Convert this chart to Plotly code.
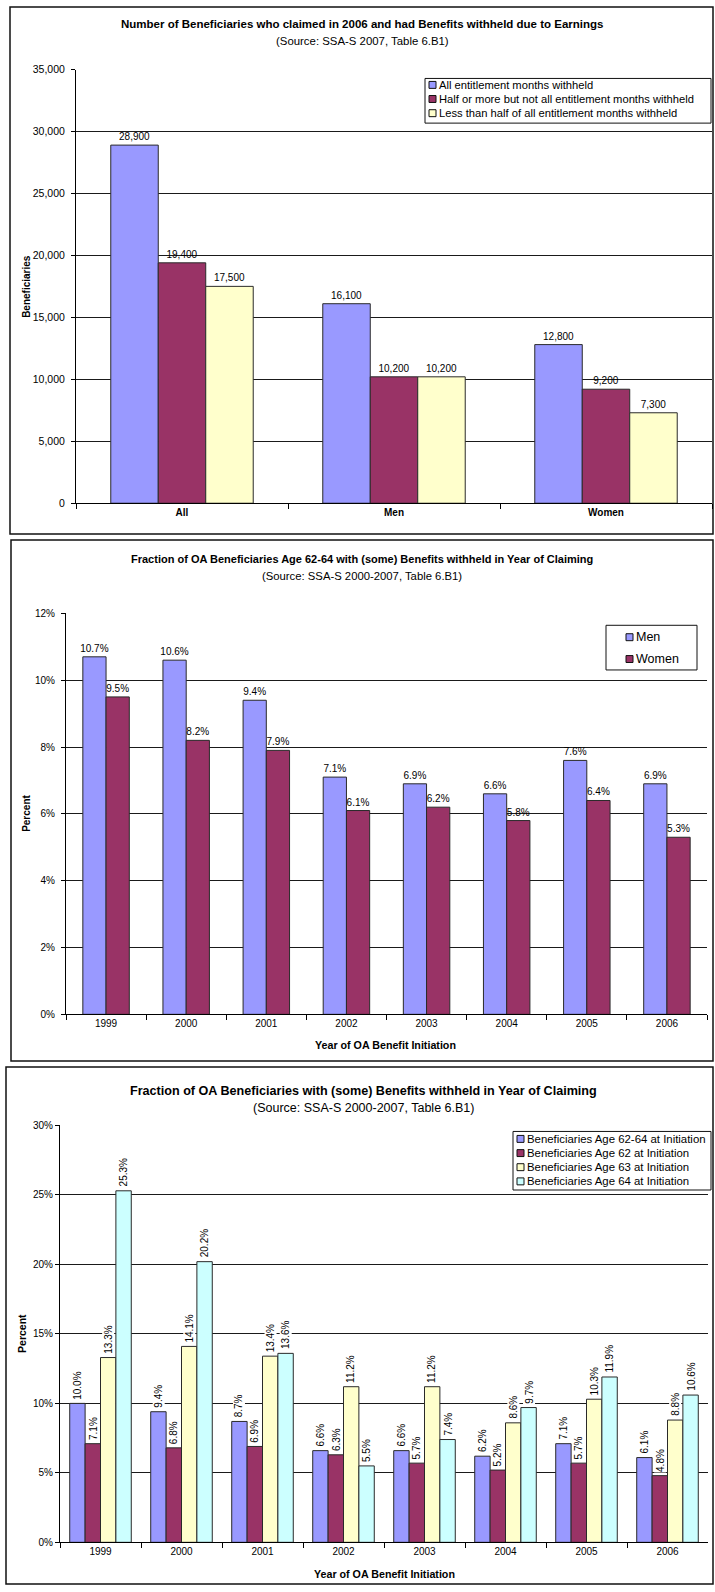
import plotly.graph_objects as go

# ---------------- data ----------------
groups = ["All", "Men", "Women"]
earn_series = [
    "All entitlement months withheld",
    "Half or more but not all entitlement months withheld",
    "Less than half of all entitlement months withheld",
]
earn_all_months = [28900, 16100, 12800]
earn_half_more = [19400, 10200, 9200]
earn_less_half = [17500, 10200, 7300]

years = ["1999", "2000", "2001", "2002", "2003", "2004", "2005", "2006"]
sex_series = ["Men", "Women"]
pct_men = [10.7, 10.6, 9.4, 7.1, 6.9, 6.6, 7.6, 6.9]
pct_women = [9.5, 8.2, 7.9, 6.1, 6.2, 5.8, 6.4, 5.3]

age_series = [
    "Beneficiaries Age 62-64 at Initiation",
    "Beneficiaries Age 62 at Initiation",
    "Beneficiaries Age 63 at Initiation",
    "Beneficiaries Age 64 at Initiation",
]
pct_age_62_64 = [10.0, 9.4, 8.7, 6.6, 6.6, 6.2, 7.1, 6.1]
pct_age_62 = [7.1, 6.8, 6.9, 6.3, 5.7, 5.2, 5.7, 4.8]
pct_age_63 = [13.3, 14.1, 13.4, 11.2, 11.2, 8.6, 10.3, 8.8]
pct_age_64 = [25.3, 20.2, 13.6, 5.5, 7.4, 9.7, 11.9, 10.6]

# ---------------- styling ----------------
W, H = 715, 1592
FONT = "Liberation Sans, Arial, sans-serif"
BLUE, MAROON, YELLOW, CYAN = "#9999FF", "#993366", "#FFFFCC", "#CCFFFF"
EDGE = "#2a2a2a"
GRID = "#1a1a1a"


def px(x):
    return x / W


def py(y):
    return 1 - y / H


fig = go.Figure()

# ---------- panel 1: counts ----------
p1_w = 0.224
p1_off = [-1.5 * p1_w, -0.5 * p1_w, 0.5 * p1_w]
for name, vals, col, off in zip(
    earn_series, [earn_all_months, earn_half_more, earn_less_half],
    [BLUE, MAROON, YELLOW], p1_off,
):
    fig.add_trace(go.Bar(
        x=groups, y=vals, name=name, width=p1_w, offset=off,
        marker=dict(color=col, line=dict(color=EDGE, width=1)),
        texttemplate="%{y:,}", textposition="outside", cliponaxis=False,
        constraintext="none",
        textfont=dict(family=FONT, size=10, color="black"),
        xaxis="x", yaxis="y", showlegend=False,
    ))

# ---------- panel 2: men / women ----------
p2_w = 0.29
for name, vals, col, off in zip(sex_series, [pct_men, pct_women],
                                [BLUE, MAROON], [-p2_w, 0.0]):
    fig.add_trace(go.Bar(
        x=years, y=vals, name=name, width=p2_w, offset=off,
        marker=dict(color=col, line=dict(color=EDGE, width=1)),
        texttemplate="%{y:.1f}%", textposition="outside", cliponaxis=False,
        constraintext="none",
        textfont=dict(family=FONT, size=10, color="black"),
        xaxis="x2", yaxis="y2", showlegend=False,
    ))

# ---------- panel 3: by age ----------
p3_w = 0.19
p3_band_px = 81.0
age_vals = [pct_age_62_64, pct_age_62, pct_age_63, pct_age_64]
age_cols = [BLUE, MAROON, YELLOW, CYAN]
for i, (name, vals, col) in enumerate(zip(age_series, age_vals, age_cols)):
    off = (i - 2) * p3_w
    fig.add_trace(go.Bar(
        x=years, y=vals, name=name, width=p3_w, offset=off,
        marker=dict(color=col, line=dict(color=EDGE, width=1)),
        xaxis="x3", yaxis="y3", showlegend=False,
    ))
    shift = (off + p3_w / 2) * p3_band_px
    # value labels: positioned on the category index of each year
    for j, v in enumerate(vals):
        fig.add_annotation(
            x=j, y=v, xref="x3", yref="y3", text=f"{v:.1f}%",
            textangle=-90, xanchor="center", yanchor="bottom",
            xshift=shift, yshift=3, showarrow=False, bgcolor="white",
            borderpad=0, font=dict(family=FONT, size=10, color="black"),
        )

# ---------- axes ----------
axis_common = dict(
    showline=True, linecolor="black", linewidth=1, mirror=False,
    tickfont=dict(family=FONT, size=10, color="black"),
    zeroline=False, fixedrange=True,
)
x_common = dict(axis_common, type="category", tickson="boundaries",
                ticks="outside", ticklen=5, tickcolor="black",
                showgrid=False)
y_common = dict(axis_common, ticks="outside", ticklen=4, tickcolor="black",
                showgrid=True, gridcolor=GRID, gridwidth=1)

fig.update_layout(
    xaxis=dict(x_common, domain=[px(76), px(712)], anchor="y",
               tickfont=dict(family=FONT, size=10, color="black", weight="bold")),
    yaxis=dict(y_common, domain=[py(501), py(64)], anchor="x",
               range=[0, 35000], dtick=5000, tickformat=",",
               ticklabelstandoff=4,
               tickfont=dict(family=FONT, size=10.5, color="black")),
    xaxis2=dict(x_common, domain=[px(66), px(707)], anchor="y2",
                range=[-0.5, 7.5]),
    yaxis2=dict(y_common, domain=[py(1016), py(612)], anchor="x2",
                range=[0, 12], dtick=2, ticksuffix="%",
                ticklabelstandoff=4),
    xaxis3=dict(x_common, domain=[px(60), px(708)], anchor="y3",
                range=[-0.5, 7.5]),
    yaxis3=dict(y_common, domain=[py(1548), py(1128)], anchor="x3",
                range=[0, 30], dtick=5, ticksuffix="%"),
    barmode="group",
)

# ---------- frames, titles, legends ----------
shapes = []
annotations = []


def frame(x0, y0, x1, y1):
    shapes.append(dict(type="rect", xref="paper", yref="paper",
                       x0=px(x0), x1=px(x1), y0=py(y1), y1=py(y0),
                       line=dict(color="#111111", width=1.5),
                       fillcolor="rgba(0,0,0,0)", layer="below"))


def text(x, y, s, size=10, bold=False, angle=0, xanchor="center"):
    annotations.append(dict(
        x=px(x), y=py(y), xref="paper", yref="paper", text=s,
        showarrow=False, textangle=angle, xanchor=xanchor, yanchor="middle",
        font=dict(family=FONT, size=size, color="black",
                  weight="bold" if bold else "normal"),
    ))


def legend(x0, y0, x1, y1, names, cols, rows_y, sq_x, size):
    shapes.append(dict(type="rect", xref="paper", yref="paper",
                       x0=px(x0), x1=px(x1), y0=py(y1), y1=py(y0),
                       line=dict(color="#111111", width=1),
                       fillcolor="white"))
    for n, c, ry in zip(names, cols, rows_y):
        shapes.append(dict(type="rect", xref="paper", yref="paper",
                           x0=px(sq_x), x1=px(sq_x + 7),
                           y0=py(ry + 3.5), y1=py(ry - 3.5),
                           line=dict(color="#111111", width=1), fillcolor=c))
        text(sq_x + 8, ry, n, size=size, xanchor="left")


# panel 1
frame(10, 1, 713, 532)
text(362, 18, "Number of Beneficiaries who claimed in 2006 and had Benefits withheld due to Earnings", 11.5, True)
text(362, 35, "(Source: SSA-S 2007, Table 6.B1)", 11.4)
text(27, 283, "Beneficiaries", 10, True, angle=-90)
legend(425, 73, 711, 118, earn_series, [BLUE, MAROON, YELLOW],
       [79.5, 93.7, 108], 429, 11.2)

# panel 2
frame(11, 538, 713, 1063)
text(362, 557, "Fraction of OA Beneficiaries Age 62-64 with (some) Benefits withheld in Year of Claiming", 11, True)
text(362, 574, "(Source: SSA-S 2000-2007, Table 6.B1)", 11.3)
text(27, 814, "Percent", 10, True, angle=-90)
text(386, 1047, "Year of OA Benefit Initiation", 10.7, True)
legend(606, 624, 697, 669, sex_series, [BLUE, MAROON], [636, 658], 626, 12.5)

# panel 3
frame(6, 1069, 713, 1590)
text(363, 1093, "Fraction of OA Beneficiaries with (some) Benefits withheld in Year of Claiming", 12.6, True)
text(363, 1110, "(Source: SSA-S 2000-2007, Table 6.B1)", 12.5)
text(22, 1338, "Percent", 10.5, True, angle=-90)
text(384, 1580, "Year of OA Benefit Initiation", 10.7, True)
legend(513, 1134, 711, 1193, age_series, age_cols,
       [1141.5, 1155.8, 1170, 1184.3], 517, 11.4)

fig.update_layout(
    shapes=shapes, annotations=list(fig.layout.annotations) + annotations,
    width=W, height=H, margin=dict(l=0, r=0, t=0, b=0),
    paper_bgcolor="white", plot_bgcolor="white",
    font=dict(family=FONT, size=10, color="black"),
    showlegend=False,
)

fig.write_html("out.html")
